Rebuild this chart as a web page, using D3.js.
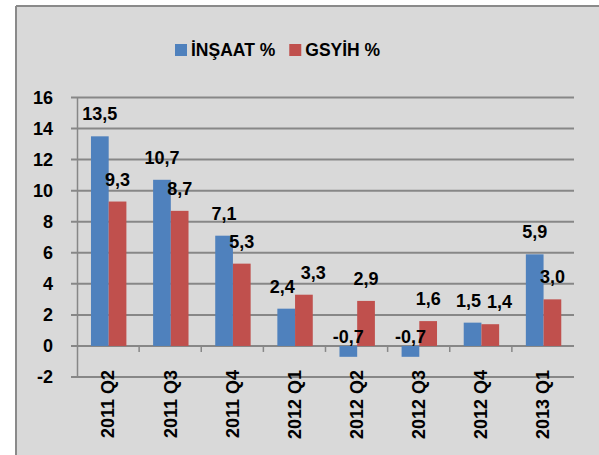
<!DOCTYPE html>
<html>
<head>
<meta charset="utf-8">
<script src="https://cdn.jsdelivr.net/npm/d3@7"></script>
<style>
  html, body { margin: 0; padding: 0; background: #fff; }
  svg { display: block; }
  text { font-family: "Liberation Sans", Arial, sans-serif; font-weight: bold; fill: #000; }
</style>
</head>
<body>
<div id="chart"></div>
<script>
// data
var categories = ["2011 Q2", "2011 Q3", "2011 Q4", "2012 Q1", "2012 Q2", "2012 Q3", "2012 Q4", "2013 Q1"];
var insaat = [13.5, 10.7, 7.1, 2.4, -0.7, -0.7, 1.5, 5.9];
var gsyih = [9.3, 8.7, 5.3, 3.3, 2.9, 1.6, 1.4, 3.0];
var seriesNames = ["İNŞAAT %", "GSYİH %"];
var yTicks = [-2, 0, 2, 4, 6, 8, 10, 12, 14, 16];

var colors = ["#4f81bd", "#c0504d"];
var width = 599, height = 455;

var svg = d3.select("#chart").append("svg")
    .attr("width", width)
    .attr("height", height);

// frame
svg.append("rect").attr("x", 16).attr("y", 6).attr("width", width - 16).attr("height", height - 6)
    .attr("fill", "#d9d9d9");
svg.append("line").attr("x1", 16).attr("x2", width).attr("y1", 6).attr("y2", 6)
    .attr("stroke", "#8a8a8a").attr("stroke-width", 2);
svg.append("line").attr("x1", 16).attr("x2", 16).attr("y1", 6).attr("y2", height)
    .attr("stroke", "#8a8a8a").attr("stroke-width", 2);

// scales
var x = d3.scaleBand().domain(categories).range([77, 574]).paddingInner(0).paddingOuter(0);
var y = d3.scaleLinear().domain([-2, 16]).range([377, 97.5]);

var barOffset = x.bandwidth() * 0.225;
var barW = x.bandwidth() * 0.285;

function fmt(d) { return d.toFixed(1).replace(".", ","); }

// gridlines
svg.append("g").selectAll("line")
    .data(yTicks)
    .enter().append("line")
    .attr("x1", 71).attr("x2", 574)
    .attr("y1", function(d) { return y(d); })
    .attr("y2", function(d) { return y(d); })
    .attr("stroke", "#878787")
    .attr("stroke-width", 2);

// y axis
var yAxis = svg.append("g")
    .attr("transform", "translate(77,0)")
    .call(d3.axisLeft(y).tickValues(yTicks).tickSize(0).tickPadding(24)
      .tickFormat(function(d) { return String(d); }));
yAxis.select(".domain").attr("stroke", "#878787").attr("stroke-width", 1.5);
yAxis.selectAll("text")
    .style("font-family", "Liberation Sans, Arial, sans-serif")
    .style("font-weight", "bold")
    .style("font-size", "18px")
    .attr("fill", "#000");

// x ticks on zero line
svg.append("g").selectAll("line")
    .data(categories.slice(1))
    .enter().append("line")
    .attr("x1", function(d) { return x(d); })
    .attr("x2", function(d) { return x(d); })
    .attr("y1", y(0))
    .attr("y2", y(0) + 6)
    .attr("stroke", "#878787")
    .attr("stroke-width", 1.5);

// bars
var series = [insaat, gsyih];
series.forEach(function(vals, s) {
  svg.append("g").selectAll("rect")
    .data(vals)
    .enter().append("rect")
    .attr("x", function(d, i) { return x(categories[i]) + barOffset + s * barW; })
    .attr("y", function(d) { return y(Math.max(d, 0)); })
    .attr("width", barW)
    .attr("height", function(d) { return Math.abs(y(d) - y(0)); })
    .attr("fill", colors[s]);
});

// data labels (drawn after all bars), pushed apart when a pair collides
var labelG = svg.append("g");
categories.forEach(function(c, i) {
  var pair = series.map(function(vals, s) {
    var d = vals[i];
    return labelG.append("text")
      .attr("x", x(c) + barOffset + s * barW + barW / 2)
      .attr("y", d < 0 ? y(0) - 3 : y(d) - 16)
      .attr("text-anchor", "middle")
      .style("font-size", "18px")
      .text(fmt(d));
  });
  var b0 = pair[0].node().getBBox(), b1 = pair[1].node().getBBox();
  var vOverlap = b0.y < b1.y + b1.height && b1.y < b0.y + b0.height;
  var hOverlap = b0.x + b0.width + 6 - b1.x;
  if (vOverlap && hOverlap > 0) {
    pair[0].attr("x", +pair[0].attr("x") - hOverlap * 0.3);
    pair[1].attr("x", +pair[1].attr("x") + hOverlap * 0.7);
  }
});

// category labels
svg.append("g").selectAll("text")
    .data(categories)
    .enter().append("text")
    .attr("transform", function(d) {
      return "translate(" + (x(d) + x.bandwidth() / 2) + ",370) rotate(-90)";
    })
    .attr("dy", "0.35em")
    .attr("text-anchor", "end")
    .style("font-size", "18px")
    .text(function(d) { return d; });

// legend
var legend = svg.append("g");
var lx = 175;
seriesNames.forEach(function(name, s) {
  legend.append("rect")
    .attr("x", lx).attr("y", 44).attr("width", 12).attr("height", 12)
    .attr("fill", colors[s]);
  var t = legend.append("text")
    .attr("x", lx + 16).attr("y", 56)
    .style("font-size", "17.5px")
    .text(name);
  lx += 16 + t.node().getComputedTextLength() + 14;
});
</script>
</body>
</html>
